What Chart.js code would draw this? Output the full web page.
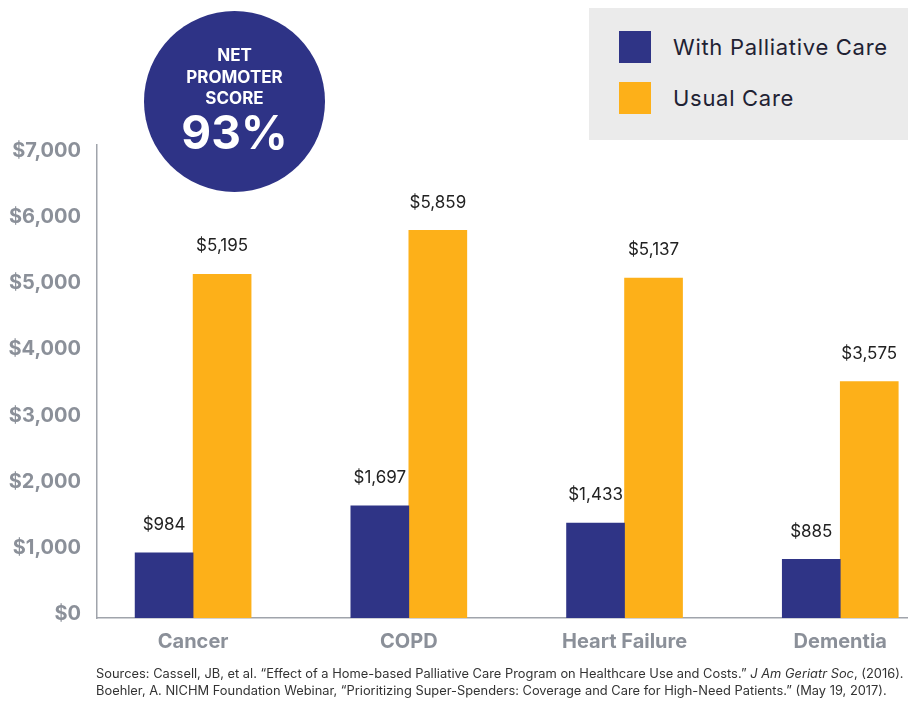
<!DOCTYPE html>
<html><head><meta charset="utf-8">
<script src="https://cdn.jsdelivr.net/npm/chart.js@4"></script>
<style>
html,body{margin:0;padding:0;background:#fff;}
#wrap{position:relative;width:908px;height:702px;overflow:hidden;font-family:Inter,"Open Sans",sans-serif;}
#c{position:absolute;left:0;top:0;}
#legend{position:absolute;left:589px;top:8px;width:319px;height:132px;background:#ebebeb;}
.item{position:absolute;left:30px;height:32px;display:flex;align-items:center;white-space:nowrap;}
.sw{width:32px;height:32px;margin-right:22px;flex:none;}
.lt{font-size:22px;letter-spacing:0.7px;color:#1f2233;}
#badge{position:absolute;left:144px;top:11px;width:181px;height:181px;border-radius:50%;background:#2e3386;color:#fff;font-weight:700;}
.bl{position:absolute;left:0;width:181px;text-align:center;white-space:nowrap;}
#src{position:absolute;left:96px;top:665px;font-size:12.5px;color:#333;white-space:nowrap;line-height:17px;transform-origin:0 0;}
</style></head>
<body>
<div id="wrap">
<canvas id="c" width="908" height="702"></canvas>
<div id="badge">
 <div class="bl" style="top:34px;font-size:17px;line-height:20px;">NET</div>
 <div class="bl" style="top:56px;font-size:17px;line-height:20px;">PROMOTER</div>
 <div class="bl" style="top:77px;font-size:17px;line-height:20px;">SCORE</div>
 <div class="bl" style="top:96px;font-size:46px;line-height:50px;">93%</div>
</div>
<div id="legend"></div>
<div id="src"></div>
</div>
<script>
const categories = ["Cancer", "COPD", "Heart Failure", "Dementia"];
const withPalliative = [984, 1697, 1433, 885];
const usualCare = [5195, 5859, 5137, 3575];
const seriesNames = ["With Palliative Care", "Usual Care"];
const seriesColors = ["#2f3486", "#fdb019"];
const yTicks = [0, 1000, 2000, 3000, 4000, 5000, 6000, 7000];
const sources = [
 "Sources: Cassell, JB, et al. \u201cEffect of a Home-based Palliative Care Program on Healthcare Use and Costs.\u201d <i>J Am Geriatr Soc</i>, (2016).",
 "Boehler, A. NICHM Foundation Webinar, \u201cPrioritizing Super-Spenders: Coverage and Care for High-Need Patients.\u201d (May 19, 2017)."
];

const money = v => '$' + Number(v).toLocaleString('en-US');

const valueLabels = {
  id: 'valueLabels',
  afterDatasetsDraw(chart) {
    const ctx = chart.ctx;
    ctx.save();
    ctx.font = '17px Inter, "Open Sans", sans-serif';
    ctx.fillStyle = '#222';
    ctx.textAlign = 'center';
    ctx.textBaseline = 'middle';
    chart.data.datasets.forEach((ds, di) => {
      chart.getDatasetMeta(di).data.forEach((bar, i) => {
        ctx.fillText(money(ds.data[i].y), bar.x, bar.y - 28);
      });
    });
    ctx.restore();
  }
};

const axisGray = '#8b9099';
new Chart(document.getElementById('c'), {
  type: 'bar',
  data: {
    datasets: [
      { label: seriesNames[0], data: withPalliative.map((v, i) => ({x: i, y: v})), backgroundColor: seriesColors[0], barThickness: 58 },
      { label: seriesNames[1], data: usualCare.map((v, i) => ({x: i, y: v})), backgroundColor: seriesColors[1], barThickness: 58 }
    ]
  },
  options: {
    responsive: false,
    animation: false,
    devicePixelRatio: 1,
    layout: { padding: { top: 145, left: 0, right: 0, bottom: 0 } },
    plugins: { legend: { display: false }, tooltip: { enabled: false } },
    scales: {
      x: {
        type: 'linear', min: -0.4455, max: 3.314, offset: false,
        grid: { display: false, offset: false },
        border: { display: true, color: '#a0a4ab', width: 1.5 },
        afterBuildTicks: s => { s.ticks = categories.map((c, i) => ({ value: i })); },
        afterFit: s => { s.height = 84; },
        ticks: {
          autoSkip: false, maxRotation: 0, padding: 4,
          color: axisGray, font: { family: 'Inter, "Open Sans", sans-serif', size: 20, weight: 'bold' },
          callback: v => categories[v] ?? ''
        }
      },
      y: {
        min: 0, max: 7150,
        grid: { display: false },
        border: { display: true, color: '#a0a4ab', width: 1.5 },
        afterBuildTicks: s => { s.ticks = yTicks.map(v => ({ value: v })); },
        afterFit: s => { s.width = 97; },
        ticks: {
          padding: 8, labelOffset: -4,
          color: axisGray, font: { family: 'Inter, "Open Sans", sans-serif', size: 20, weight: 'bold' },
          callback: v => money(v)
        }
      }
    }
  },
  plugins: [valueLabels]
});

const lg = document.getElementById('legend');
seriesNames.forEach((n, i) => {
  const d = document.createElement('div');
  d.className = 'item';
  d.style.top = (i === 0 ? 23 : 74) + 'px';
  d.innerHTML = '<div class="sw" style="background:' + seriesColors[i] + '"></div><span class="lt">' + n + '</span>';
  lg.appendChild(d);
});
const src = document.getElementById('src');
src.innerHTML = sources.join('<br>');
const w = src.scrollWidth;
src.style.transform = 'scaleX(' + (808 / w) + ')';
</script>
</body></html>
